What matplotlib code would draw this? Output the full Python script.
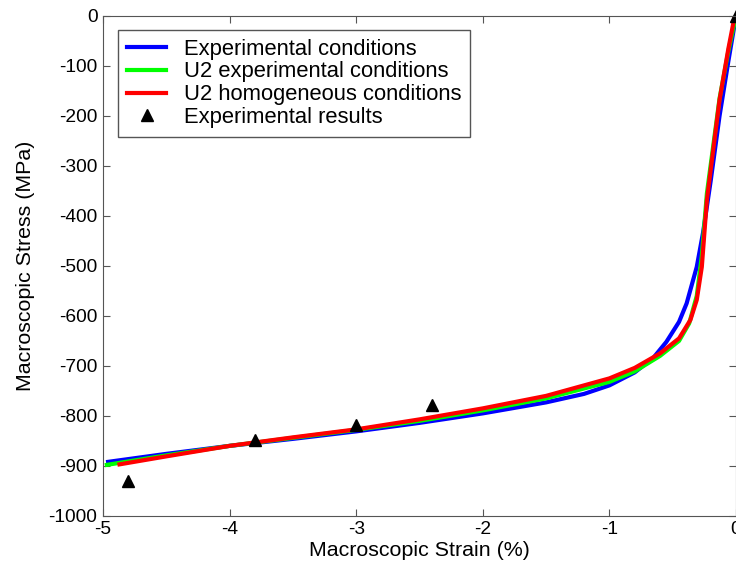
import numpy as np
import matplotlib
matplotlib.use('Agg')
import matplotlib.pyplot as plt

plt.rcParams['font.family'] = ['Liberation Sans', 'DejaVu Sans']
plt.rcParams['axes.unicode_minus'] = False

# strain (%) / stress (MPa)
exp_x = [-4.96, -4.5, -4.0, -3.5, -3.0, -2.5, -2.0, -1.5, -1.2, -1.0, -0.8, -0.65,
         -0.55, -0.45, -0.39, -0.31, -0.26, -0.2, -0.13, -0.06, 0.0]
exp_y = [-892, -876, -860, -846, -831, -814, -795, -773, -756, -739, -713, -683,
         -652, -612, -575, -502, -433, -330, -200, -90, 0]

u2e_x = [-4.97, -4.5, -4.0, -3.5, -3.0, -2.5, -2.0, -1.5, -1.0, -0.8, -0.6, -0.45,
         -0.37, -0.31, -0.27, -0.23, -0.13, -0.06, 0.0]
u2e_y = [-898, -879, -860, -844, -828, -810, -789, -765, -732, -711, -680, -650,
         -615, -560, -480, -355, -165, -70, 0]

u2h_x = [-4.87, -4.5, -4.0, -3.5, -3.0, -2.5, -2.0, -1.5, -1.0, -0.8, -0.6, -0.45,
         -0.36, -0.31, -0.27, -0.23, -0.13, -0.06, -0.01]
u2h_y = [-897, -881, -860, -843, -827, -807, -785, -760, -725, -704, -675, -645,
         -608, -568, -502, -368, -168, -65, 0]

res_x = [-4.8, -3.8, -3.0, -2.4, 0.0]
res_y = [-930, -848, -818, -778, 0]

fig = plt.figure(figsize=(7.36, 5.70), dpi=100)
ax = fig.add_axes([0.140, 0.095, 0.860, 0.877])

ax.plot(exp_x, exp_y, color=(0, 0, 1), lw=3, label='Experimental conditions')
ax.plot(u2e_x, u2e_y, color=(0, 1, 0), lw=3, label='U2 experimental conditions')
ax.plot(u2h_x, u2h_y, color=(1, 0, 0), lw=3, label='U2 homogeneous conditions')
ax.plot(res_x, res_y, '^', color='black', ms=8, ls='none', label='Experimental results',
        clip_on=False)

ax.set_xlim(-5, 0)
ax.set_ylim(-1000, 0)
ax.set_xticks(np.arange(-5, 1, 1))
ax.set_yticks(np.arange(-1000, 1, 100))
ax.tick_params(direction='in', top=True, right=True, labelsize=13.8, length=5,
               color='#555555', pad=4)
for s in ax.spines.values():
    s.set_color('#555555')

ax.set_xlabel('Macroscopic Strain (%)', fontsize=15.4, labelpad=2)
ax.set_ylabel('Macroscopic Stress (MPa)', fontsize=15.4, labelpad=10)

leg = ax.legend(loc='upper left', bbox_to_anchor=(0.0237, 0.972), borderaxespad=0,
                fontsize=15.8, fancybox=False, framealpha=1, edgecolor='#555555',
                handlelength=1.8, borderpad=0.4, labelspacing=0.08, handletextpad=0.8)
leg.get_frame().set_linewidth(1)

fig.savefig('out.png')
